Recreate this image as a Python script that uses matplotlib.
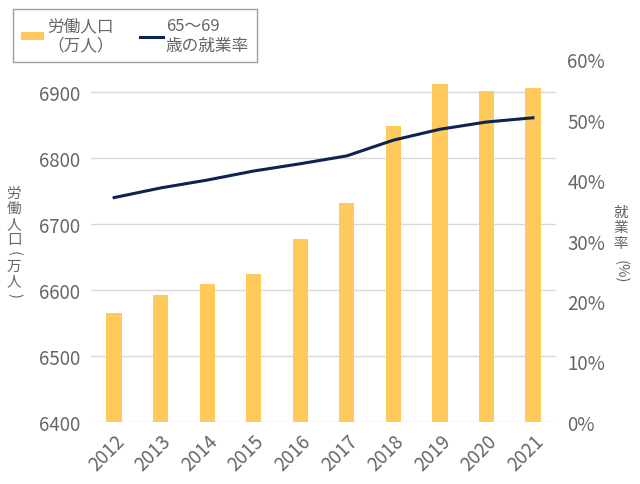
import matplotlib.pyplot as plt
import numpy as np

plt.rcParams['font.family'] = ['Noto Sans CJK JP', 'DejaVu Sans']

years = ['2012', '2013', '2014', '2015', '2016', '2017', '2018', '2019', '2020', '2021']
labor = [6565, 6593, 6609, 6625, 6678, 6732, 6848, 6912, 6902, 6906]
rate = [37.1, 38.7, 40.0, 41.5, 42.7, 44.0, 46.6, 48.4, 49.6, 50.3]

gray = '#666666'
fig = plt.figure(figsize=(6.4, 4.85), dpi=100)
ax = fig.add_axes([0.142, 0.128, 0.727, 0.748])
ax2 = ax.twinx()

x = np.arange(len(years))
bars = ax.bar(x, labor, width=0.33, color='#FFC95C', zorder=2, label='労働人口\n（万人）')
line, = ax2.plot(x, rate, color='#0D2352', lw=2.2, label='65～69\n歳の就業率')

ax.set_xlim(-0.5, len(years) - 0.5)
ax.set_ylim(6400, 6950)
ax.set_yticks(np.arange(6400, 6901, 100))
ax.grid(axis='y', color='#d9d9d9', lw=1, zorder=0)
ax.set_axisbelow(True)
ax2.set_ylim(0, 60)
ax2.set_yticks(np.arange(0, 61, 10))
ax2.set_yticklabels(['%d%%' % v for v in range(0, 61, 10)])

ax.set_xticks(x)
ax.set_xticklabels(years, rotation=45, ha='right', rotation_mode='anchor')

for a in (ax, ax2):
    for s in a.spines.values():
        s.set_visible(False)
    a.tick_params(length=0, labelsize=13.5, labelcolor=gray)
ax.tick_params(axis='y', pad=8)
ax.tick_params(axis='x', pad=6)
ax2.tick_params(axis='y', pad=8)


def stacked_label(chars, xpix, ytop, step=15.5):
    # vertical text: CJK upright, brackets turned and packed tighter
    y = ytop
    for c in chars:
        rot = -90 if c in '()' else 0
        h = step * 0.7 if c in '()' else step
        fig.text(xpix / 640, 1 - (y + h / 2) / 485, c, fontsize=10.5,
                 color=gray, ha='center', va='center', rotation=rot)
        y += h


stacked_label('労働人口(万人)', 14, 186)
stacked_label('就業率', 621, 205)
fig.text(621 / 640, 1 - 272 / 485, '(%)', fontsize=10.5, color=gray,
         rotation=-90, ha='center', va='center')

leg = fig.legend(handles=[bars, line], loc='upper left', bbox_to_anchor=(0.02, 0.98),
                 borderaxespad=0, ncol=2, fontsize=12, frameon=True, fancybox=False,
                 handlelength=1.4, handleheight=0.35, handletextpad=0.15,
                 columnspacing=1.6, borderpad=0.5, labelspacing=0.2,
                 labelcolor=gray)
leg.get_frame().set_edgecolor('#888888')
leg.get_frame().set_linewidth(1)

fig.savefig('out.png', dpi=100)
